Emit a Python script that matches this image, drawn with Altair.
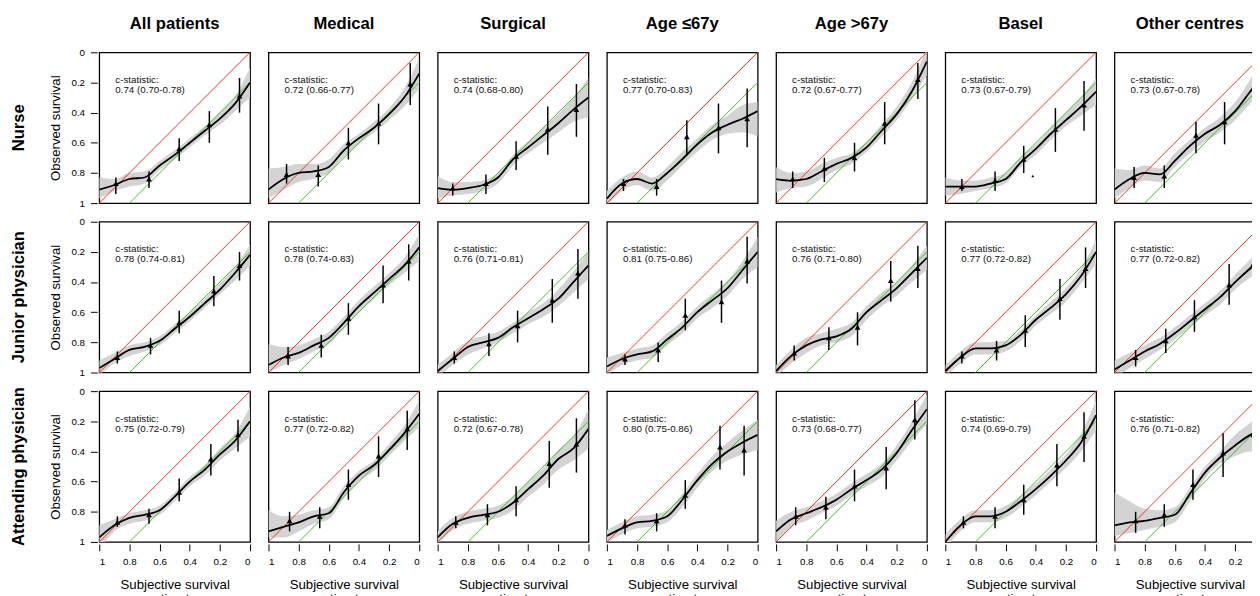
import altair as alt
import pandas as pd

ROWS = ["Nurse", "Junior physician", "Attending physician"]
COLS = ["All patients", "Medical", "Surgical", "Age ≤67y", "Age >67y", "Basel", "Other centres"]

CURVE_X = [1.0, 0.9, 0.8, 0.7, 0.6, 0.5, 0.4, 0.3, 0.2, 0.1, 0.0]
IDEAL_X = [1.0, 0.0]
IDEAL_Y = [1.0, 0.0]
RECAL_X = [0.8, 0.0]
RECAL_Y = [1.0, 0.2]

TICKS = [1.0, 0.8, 0.6, 0.4, 0.2, 0.0]

# ---------------- Nurse ----------------
CSTAT_NURSE = ["0.74 (0.70-0.78)", "0.72 (0.66-0.77)", "0.74 (0.68-0.80)", "0.77 (0.70-0.83)",
               "0.72 (0.67-0.77)", "0.73 (0.67-0.79)", "0.73 (0.67-0.78)"]
NURSE_PT_X = [[0.89, 0.67, 0.47, 0.27, 0.07], [0.88, 0.67, 0.47, 0.27, 0.06], [0.90, 0.68, 0.48, 0.27, 0.08],
              [0.89, 0.67, 0.47, 0.26, 0.07], [0.89, 0.68, 0.48, 0.28, 0.06], [0.89, 0.67, 0.48, 0.27, 0.08],
              [0.87, 0.67, 0.46, 0.27, 0.05]]
NURSE_PT_Y = [[0.87, 0.84, 0.64, 0.48, 0.29], [0.81, 0.81, 0.60, 0.47, 0.21], [0.90, 0.87, 0.69, 0.51, 0.38],
              [0.87, 0.89, 0.56, 0.50, 0.44], [0.84, 0.77, 0.70, 0.47, 0.18], [0.89, 0.85, 0.71, 0.51, 0.35],
              [0.83, 0.82, 0.55, 0.46, 0.21]]
NURSE_ERR_LO = [[0.83, 0.79, 0.57, 0.39, 0.17], [0.74, 0.75, 0.50, 0.34, 0.07], [0.87, 0.81, 0.59, 0.36, 0.21],
                [0.84, 0.84, 0.45, 0.34, 0.24], [0.79, 0.70, 0.60, 0.33, 0.07], [0.84, 0.79, 0.62, 0.37, 0.19],
                [0.76, 0.75, 0.46, 0.33, 0.05]]
NURSE_ERR_HI = [[0.94, 0.90, 0.72, 0.60, 0.40], [0.87, 0.89, 0.71, 0.61, 0.35], [0.95, 0.94, 0.78, 0.68, 0.56],
                [0.92, 0.95, 0.68, 0.67, 0.63], [0.90, 0.86, 0.79, 0.61, 0.31], [0.92, 0.92, 0.80, 0.66, 0.52],
                [0.90, 0.90, 0.67, 0.61, 0.32]]
NURSE_CURVE = [[0.91, 0.88, 0.84, 0.83, 0.75, 0.68, 0.60, 0.52, 0.44, 0.34, 0.20],
               [0.91, 0.84, 0.80, 0.79, 0.76, 0.65, 0.57, 0.50, 0.41, 0.30, 0.14],
               [0.90, 0.91, 0.90, 0.88, 0.83, 0.71, 0.63, 0.55, 0.47, 0.38, 0.30],
               [0.97, 0.87, 0.84, 0.87, 0.80, 0.71, 0.61, 0.53, 0.48, 0.44, 0.39],
               [0.84, 0.85, 0.84, 0.79, 0.74, 0.70, 0.63, 0.52, 0.41, 0.26, 0.06],
               [0.89, 0.89, 0.89, 0.87, 0.84, 0.73, 0.64, 0.54, 0.45, 0.36, 0.26],
               [0.91, 0.84, 0.80, 0.81, 0.72, 0.62, 0.54, 0.48, 0.39, 0.26, 0.13]]
NURSE_BAND_LO = [[0.83, 0.84, 0.80, 0.79, 0.72, 0.65, 0.57, 0.49, 0.40, 0.29, 0.10],
                 [0.77, 0.76, 0.74, 0.74, 0.71, 0.61, 0.54, 0.46, 0.37, 0.24, 0.04],
                 [0.82, 0.86, 0.86, 0.85, 0.80, 0.68, 0.59, 0.50, 0.41, 0.30, 0.17],
                 [0.92, 0.83, 0.79, 0.83, 0.76, 0.66, 0.57, 0.48, 0.42, 0.35, 0.33],
                 [0.76, 0.80, 0.79, 0.74, 0.70, 0.67, 0.59, 0.48, 0.36, 0.20, -0.03],
                 [0.83, 0.85, 0.85, 0.83, 0.80, 0.69, 0.61, 0.50, 0.40, 0.30, 0.17],
                 [0.77, 0.78, 0.75, 0.77, 0.67, 0.58, 0.50, 0.43, 0.33, 0.18, 0.01]]
NURSE_BAND_HI = [[0.97, 0.92, 0.89, 0.87, 0.78, 0.71, 0.63, 0.55, 0.48, 0.39, 0.30],
                 [0.97, 0.91, 0.86, 0.84, 0.80, 0.69, 0.61, 0.53, 0.45, 0.36, 0.24],
                 [0.97, 0.95, 0.94, 0.92, 0.87, 0.75, 0.67, 0.60, 0.53, 0.46, 0.43],
                 [1.02, 0.92, 0.88, 0.92, 0.85, 0.75, 0.66, 0.58, 0.54, 0.53, 0.56],
                 [0.93, 0.90, 0.89, 0.84, 0.78, 0.74, 0.66, 0.56, 0.45, 0.31, 0.15],
                 [0.95, 0.94, 0.92, 0.90, 0.87, 0.76, 0.68, 0.58, 0.49, 0.42, 0.35],
                 [0.97, 0.90, 0.85, 0.86, 0.76, 0.67, 0.59, 0.53, 0.45, 0.34, 0.25]]

# ---------------- Junior physician ----------------
CSTAT_JUNIOR = ["0.78 (0.74-0.81)", "0.78 (0.74-0.83)", "0.76 (0.71-0.81)", "0.81 (0.75-0.86)",
                "0.76 (0.71-0.80)", "0.77 (0.72-0.82)", "0.77 (0.72-0.82)"]
JUNIOR_PT_X = [[0.88, 0.66, 0.47, 0.24, 0.07], [0.87, 0.65, 0.47, 0.24, 0.07], [0.89, 0.66, 0.47, 0.24, 0.07],
               [0.88, 0.66, 0.48, 0.24, 0.07], [0.88, 0.65, 0.46, 0.24, 0.06], [0.89, 0.66, 0.47, 0.24, 0.07],
               [0.86, 0.66, 0.47, 0.24, 0.08]]
JUNIOR_PT_Y = [[0.90, 0.82, 0.67, 0.46, 0.29], [0.89, 0.82, 0.64, 0.42, 0.26], [0.90, 0.81, 0.69, 0.52, 0.34],
               [0.91, 0.85, 0.62, 0.53, 0.26], [0.87, 0.77, 0.70, 0.39, 0.31], [0.89, 0.85, 0.72, 0.51, 0.31],
               [0.90, 0.79, 0.63, 0.42, 0.28]]
JUNIOR_ERR_LO = [[0.86, 0.77, 0.59, 0.36, 0.20], [0.83, 0.75, 0.54, 0.29, 0.15], [0.86, 0.74, 0.59, 0.38, 0.18],
                 [0.88, 0.80, 0.51, 0.39, 0.10], [0.82, 0.70, 0.60, 0.26, 0.16], [0.86, 0.79, 0.62, 0.38, 0.17],
                 [0.85, 0.71, 0.52, 0.28, 0.18]]
JUNIOR_ERR_HI = [[0.94, 0.88, 0.74, 0.56, 0.39], [0.95, 0.90, 0.75, 0.54, 0.39], [0.94, 0.89, 0.80, 0.67, 0.51],
                 [0.95, 0.93, 0.72, 0.67, 0.41], [0.92, 0.85, 0.82, 0.53, 0.44], [0.94, 0.92, 0.83, 0.65, 0.44],
                 [0.96, 0.87, 0.73, 0.55, 0.43]]
JUNIOR_CURVE = [[0.97, 0.91, 0.85, 0.83, 0.79, 0.71, 0.63, 0.54, 0.45, 0.34, 0.22],
                [0.95, 0.90, 0.87, 0.82, 0.77, 0.67, 0.56, 0.47, 0.38, 0.29, 0.17],
                [0.99, 0.91, 0.83, 0.80, 0.77, 0.70, 0.64, 0.58, 0.51, 0.40, 0.29],
                [0.96, 0.91, 0.88, 0.86, 0.78, 0.70, 0.60, 0.52, 0.44, 0.32, 0.20],
                [0.99, 0.89, 0.82, 0.78, 0.76, 0.71, 0.60, 0.52, 0.44, 0.34, 0.24],
                [0.99, 0.90, 0.84, 0.84, 0.82, 0.75, 0.65, 0.57, 0.48, 0.36, 0.20],
                [0.98, 0.92, 0.86, 0.81, 0.74, 0.66, 0.58, 0.50, 0.40, 0.31, 0.23]]
JUNIOR_BAND_LO = [[0.92, 0.87, 0.82, 0.80, 0.76, 0.68, 0.60, 0.51, 0.41, 0.30, 0.15],
                  [0.81, 0.83, 0.82, 0.78, 0.73, 0.63, 0.52, 0.43, 0.34, 0.24, 0.08],
                  [0.95, 0.87, 0.79, 0.76, 0.73, 0.67, 0.60, 0.54, 0.45, 0.33, 0.20],
                  [0.90, 0.87, 0.84, 0.82, 0.74, 0.66, 0.56, 0.48, 0.39, 0.26, 0.10],
                  [0.95, 0.85, 0.77, 0.74, 0.71, 0.67, 0.56, 0.47, 0.40, 0.29, 0.16],
                  [0.95, 0.86, 0.80, 0.80, 0.79, 0.72, 0.62, 0.53, 0.44, 0.31, 0.12],
                  [0.92, 0.87, 0.82, 0.77, 0.70, 0.62, 0.54, 0.46, 0.35, 0.25, 0.14]]
JUNIOR_BAND_HI = [[1.02, 0.94, 0.89, 0.86, 0.82, 0.74, 0.66, 0.57, 0.48, 0.39, 0.29],
                  [1.00, 0.95, 0.91, 0.86, 0.81, 0.71, 0.60, 0.51, 0.42, 0.34, 0.26],
                  [1.03, 0.95, 0.88, 0.84, 0.80, 0.74, 0.68, 0.63, 0.56, 0.47, 0.38],
                  [1.02, 0.95, 0.92, 0.90, 0.82, 0.74, 0.64, 0.57, 0.49, 0.38, 0.30],
                  [1.03, 0.94, 0.87, 0.82, 0.80, 0.76, 0.65, 0.56, 0.49, 0.40, 0.32],
                  [1.03, 0.94, 0.88, 0.88, 0.86, 0.79, 0.69, 0.61, 0.53, 0.41, 0.28],
                  [1.04, 0.97, 0.91, 0.85, 0.78, 0.70, 0.62, 0.55, 0.45, 0.37, 0.32]]

# ---------------- Attending physician ----------------
CSTAT_ATTENDING = ["0.75 (0.72-0.79)", "0.77 (0.72-0.82)", "0.72 (0.67-0.78)", "0.80 (0.75-0.86)",
                   "0.73 (0.68-0.77)", "0.74 (0.69-0.79)", "0.76 (0.71-0.82)"]
ATTENDING_PT_X = [[0.88, 0.67, 0.47, 0.26, 0.08], [0.86, 0.66, 0.47, 0.27, 0.08], [0.88, 0.67, 0.48, 0.26, 0.08],
                  [0.88, 0.67, 0.48, 0.25, 0.09], [0.87, 0.67, 0.48, 0.27, 0.08], [0.88, 0.67, 0.48, 0.26, 0.08],
                  [0.86, 0.67, 0.48, 0.28, 0.08]]
ATTENDING_PT_Y = [[0.87, 0.82, 0.67, 0.45, 0.29], [0.86, 0.83, 0.62, 0.43, 0.25], [0.87, 0.82, 0.72, 0.48, 0.35],
                  [0.89, 0.86, 0.69, 0.37, 0.39], [0.83, 0.77, 0.63, 0.51, 0.19], [0.87, 0.83, 0.72, 0.49, 0.30],
                  [0.86, 0.82, 0.62, 0.41, 0.29]]
ATTENDING_ERR_LO = [[0.83, 0.78, 0.58, 0.35, 0.19], [0.80, 0.77, 0.52, 0.30, 0.13], [0.83, 0.75, 0.63, 0.33, 0.18],
                    [0.85, 0.81, 0.59, 0.23, 0.23], [0.77, 0.70, 0.52, 0.37, 0.06], [0.83, 0.77, 0.62, 0.35, 0.14],
                    [0.80, 0.75, 0.52, 0.28, 0.16]]
ATTENDING_ERR_HI = [[0.90, 0.88, 0.73, 0.56, 0.40], [0.93, 0.91, 0.72, 0.57, 0.39], [0.91, 0.89, 0.83, 0.64, 0.54],
                    [0.95, 0.93, 0.78, 0.52, 0.56], [0.89, 0.85, 0.73, 0.65, 0.32], [0.91, 0.91, 0.82, 0.63, 0.47],
                    [0.94, 0.90, 0.72, 0.57, 0.43]]
ATTENDING_CURVE = [[0.97, 0.89, 0.84, 0.82, 0.79, 0.70, 0.60, 0.52, 0.42, 0.33, 0.20],
                   [0.93, 0.90, 0.87, 0.83, 0.81, 0.67, 0.56, 0.49, 0.39, 0.28, 0.15],
                   [0.97, 0.88, 0.84, 0.82, 0.80, 0.74, 0.65, 0.56, 0.45, 0.38, 0.25],
                   [0.96, 0.91, 0.87, 0.86, 0.83, 0.72, 0.59, 0.48, 0.40, 0.34, 0.29],
                   [0.93, 0.85, 0.81, 0.77, 0.72, 0.65, 0.59, 0.52, 0.41, 0.26, 0.12],
                   [1.00, 0.89, 0.83, 0.83, 0.80, 0.73, 0.65, 0.56, 0.46, 0.34, 0.16],
                   [0.89, 0.87, 0.86, 0.84, 0.82, 0.68, 0.54, 0.44, 0.36, 0.29, 0.25]]
ATTENDING_BAND_LO = [[0.89, 0.85, 0.81, 0.79, 0.76, 0.67, 0.57, 0.49, 0.38, 0.28, 0.10],
                     [0.79, 0.83, 0.82, 0.79, 0.77, 0.63, 0.53, 0.46, 0.35, 0.23, 0.06],
                     [0.93, 0.84, 0.80, 0.78, 0.76, 0.70, 0.60, 0.51, 0.39, 0.30, 0.12],
                     [0.92, 0.87, 0.83, 0.82, 0.79, 0.68, 0.55, 0.43, 0.34, 0.26, 0.19],
                     [0.86, 0.80, 0.77, 0.73, 0.68, 0.61, 0.55, 0.48, 0.36, 0.20, 0.02],
                     [0.95, 0.85, 0.79, 0.79, 0.76, 0.69, 0.61, 0.52, 0.42, 0.28, 0.06],
                     [0.67, 0.73, 0.78, 0.79, 0.77, 0.64, 0.50, 0.40, 0.29, 0.21, 0.12]]
ATTENDING_BAND_HI = [[1.05, 0.93, 0.88, 0.86, 0.82, 0.73, 0.63, 0.56, 0.46, 0.38, 0.30],
                     [0.97, 0.97, 0.93, 0.88, 0.85, 0.71, 0.60, 0.53, 0.43, 0.33, 0.24],
                     [1.01, 0.92, 0.88, 0.86, 0.84, 0.79, 0.70, 0.62, 0.52, 0.46, 0.38],
                     [1.00, 0.95, 0.91, 0.90, 0.87, 0.77, 0.64, 0.53, 0.46, 0.42, 0.39],
                     [1.00, 0.90, 0.86, 0.81, 0.76, 0.69, 0.63, 0.57, 0.46, 0.33, 0.22],
                     [1.05, 0.93, 0.87, 0.87, 0.84, 0.77, 0.69, 0.60, 0.51, 0.40, 0.26],
                     [0.96, 0.94, 0.92, 0.90, 0.87, 0.73, 0.58, 0.48, 0.43, 0.40, 0.41]]

# stray small marker in the Nurse / Basel panel
EXTRA_ROW = ["Nurse"]
EXTRA_COL = ["Basel"]
EXTRA_X = [0.42]
EXTRA_Y = [0.82]

GROUPS = [
    (ROWS[0], CSTAT_NURSE, NURSE_PT_X, NURSE_PT_Y, NURSE_ERR_LO, NURSE_ERR_HI, NURSE_CURVE, NURSE_BAND_LO, NURSE_BAND_HI),
    (ROWS[1], CSTAT_JUNIOR, JUNIOR_PT_X, JUNIOR_PT_Y, JUNIOR_ERR_LO, JUNIOR_ERR_HI, JUNIOR_CURVE, JUNIOR_BAND_LO, JUNIOR_BAND_HI),
    (ROWS[2], CSTAT_ATTENDING, ATTENDING_PT_X, ATTENDING_PT_Y, ATTENDING_ERR_LO, ATTENDING_ERR_HI, ATTENDING_CURVE,
     ATTENDING_BAND_LO, ATTENDING_BAND_HI),
]

recs = []
for rname, cst, px, py, elo, ehi, cv, blo, bhi in GROUPS:
    for c, cname in enumerate(COLS):
        for x, y, lo, hi in zip(CURVE_X, cv[c], blo[c], bhi[c]):
            recs.append(dict(row=rname, col=cname, kind="curve", x=x, y=y, lo=lo, hi=hi))
        for x, y, lo, hi in zip(px[c], py[c], elo[c], ehi[c]):
            recs.append(dict(row=rname, col=cname, kind="pt", x=x, y=y, lo=lo, hi=hi))
        recs.append(dict(row=rname, col=cname, kind="ideal",
                         x=IDEAL_X[0], y=IDEAL_Y[0], x2=IDEAL_X[1], y2=IDEAL_Y[1]))
        recs.append(dict(row=rname, col=cname, kind="recal",
                         x=RECAL_X[0], y=RECAL_Y[0], x2=RECAL_X[1], y2=RECAL_Y[1]))
        recs.append(dict(row=rname, col=cname, kind="txt", label=cst[c]))
for rname, cname, x, y in zip(EXTRA_ROW, EXTRA_COL, EXTRA_X, EXTRA_Y):
    recs.append(dict(row=rname, col=cname, kind="extra", x=x, y=y))

df = pd.DataFrame(recs)

FONT = "Liberation Sans"
XS = alt.Scale(domain=[0, 1], reverse=True, nice=False, zero=False)
YS = alt.Scale(domain=[0, 1], reverse=True, nice=False, zero=False)
XAX = alt.Axis(values=TICKS, format=".1~f", title=["Subjective survival", "estimates"],
               titlePadding=12, labelPadding=6, titleLineHeight=14)
YAX = alt.Axis(values=TICKS, format=".1~f", title="Observed survival", titlePadding=9, labelPadding=6)


def X(f="x"):
    return alt.X(f, type="quantitative", scale=XS, axis=XAX)


def Y(f="y"):
    return alt.Y(f, type="quantitative", scale=YS, axis=YAX)


band = alt.Chart().mark_area(color="#d3d3d3", clip=True, interpolate="monotone").encode(
    x=X(), y=Y("lo"), y2="hi").transform_filter(alt.datum.kind == "curve")
ideal = alt.Chart().mark_rule(strokeWidth=1.0, opacity=1).encode(
    x=X(), y=Y(), x2="x2", y2="y2", color=alt.value("#f2301e")).transform_filter(alt.datum.kind == "ideal")
recal = alt.Chart().mark_rule(strokeWidth=1.0, opacity=1).encode(
    x=X(), y=Y(), x2="x2", y2="y2", color=alt.value("#3fbf1f")).transform_filter(alt.datum.kind == "recal")
curve = alt.Chart().mark_line(color="black", strokeWidth=1.8, interpolate="monotone", clip=True).encode(
    x=X(), y=Y()).transform_filter(alt.datum.kind == "curve")
ebar = alt.Chart().mark_rule(color="black", strokeWidth=1.5).encode(
    x=X(), y=Y("lo"), y2="hi").transform_filter(alt.datum.kind == "pt")
pts = alt.Chart().mark_point(shape="triangle-up", filled=True, color="black", opacity=1, size=34).encode(
    x=X(), y=Y()).transform_filter(alt.datum.kind == "pt")
extra = alt.Chart().mark_point(shape="triangle-up", filled=True, color="black", opacity=1, size=8).encode(
    x=X(), y=Y()).transform_filter(alt.datum.kind == "extra")
txt1 = alt.Chart().mark_text(align="left", baseline="alphabetic", fontSize=10, font=FONT, color="#111").encode(
    x=alt.XDatum(0.894, type="quantitative", scale=XS, axis=XAX),
    y=alt.YDatum(0.203, type="quantitative", scale=YS, axis=YAX),
    text=alt.value("c-statistic:")).transform_filter(alt.datum.kind == "txt")
txt2 = alt.Chart().mark_text(align="left", baseline="alphabetic", fontSize=10, font=FONT, color="#111").encode(
    x=alt.XDatum(0.894, type="quantitative", scale=XS, axis=XAX),
    y=alt.YDatum(0.268, type="quantitative", scale=YS, axis=YAX),
    text=alt.Text("label:N")).transform_filter(alt.datum.kind == "txt")

layered = alt.layer(band, ideal, recal, curve, ebar, pts, extra, txt1, txt2, data=df).properties(
    width=154, height=154)

chart = layered.facet(
    row=alt.Row("row:N", sort=ROWS, title=None,
                header=alt.Header(labelAngle=270, labelOrient="left", labelFontSize=17, labelFontWeight="bold",
                                  labelFont=FONT, labelColor="black", labelPadding=4.3)),
    column=alt.Column("col:N", sort=COLS, title=None,
                      header=alt.Header(labelFontSize=17, labelFontWeight="bold", labelFont=FONT,
                                        labelColor="black", labelPadding=17.7)),
    spacing={"row": 15, "column": 14.8},
).properties(
    padding={"left": 1.2, "top": 1, "right": -14.8, "bottom": -13}
).configure(font=FONT).configure_view(
    stroke="black", strokeWidth=1.3
).configure_axis(
    domain=False, grid=False, ticks=True, tickColor="black", tickSize=7, tickWidth=1,
    labelFont=FONT, labelFontSize=10, labelColor="black",
    titleFont=FONT, titleFontSize=13.5, titleFontWeight="normal", titleColor="black"
)

chart.save("out.html", embed_options={"renderer": "svg", "actions": False})
